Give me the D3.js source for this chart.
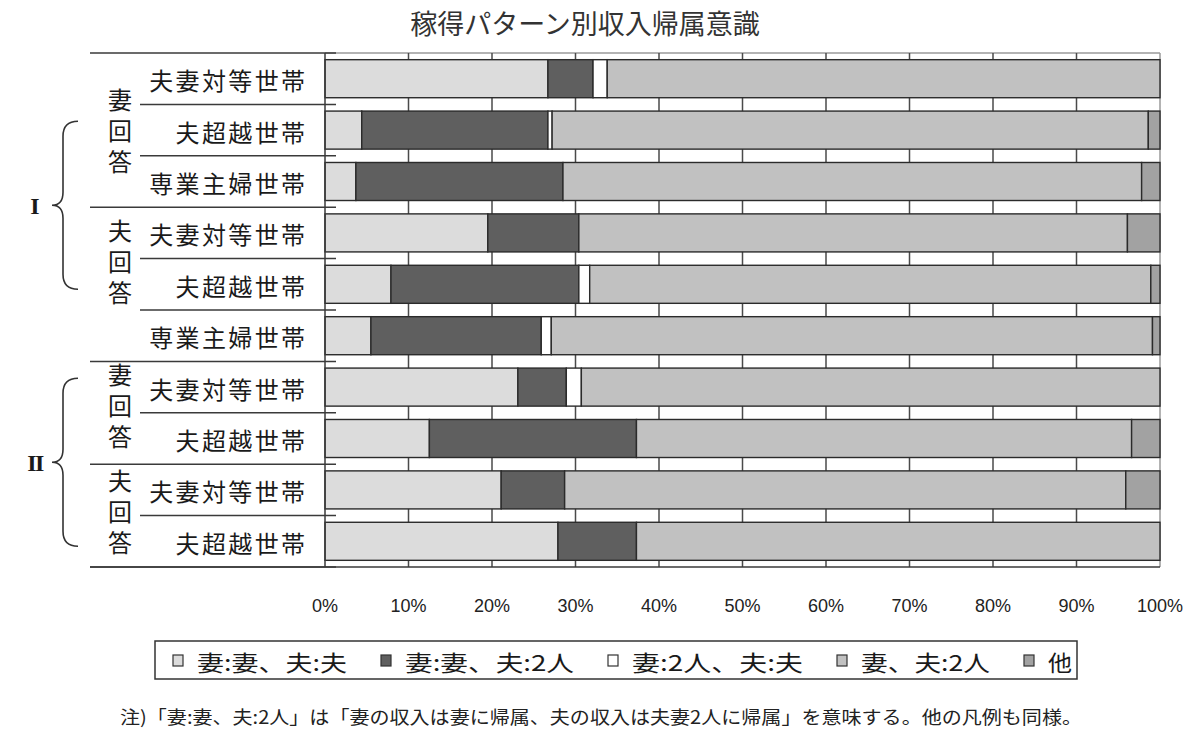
<!DOCTYPE html>
<html>
<head>
<meta charset="utf-8">
<script src="https://cdn.jsdelivr.net/npm/d3@7"></script>
<style>
  html, body { margin: 0; padding: 0; background: #fff; }
  svg { display: block; }
  text { font-family: "Noto Sans CJK JP", "Noto Sans", sans-serif; fill: #1a1a1a; }
</style>
</head>
<body>
<svg id="chart" width="1200" height="741"></svg>
<script>
// ---------- DATA ----------
const title = "稼得パターン別収入帰属意識";
const categories = ["夫妻対等世帯", "夫超越世帯", "専業主婦世帯", "夫妻対等世帯", "夫超越世帯", "専業主婦世帯", "夫妻対等世帯", "夫超越世帯", "夫妻対等世帯", "夫超越世帯"];
const respondentGroups = ["妻回答", "夫回答", "妻回答", "夫回答"];
const respondentRows = [[0, 2], [3, 5], [6, 7], [8, 9]];
const patternGroups = ["I", "II"];
const patternRows = [[0, 5], [6, 9]];
const seriesNames = ["妻:妻、夫:夫", "妻:妻、夫:2人", "妻:2人、夫:夫", "妻、夫:2人", "他"];
const wifeWifeHusbandHusband = [26.7, 4.4, 3.7, 19.5, 7.9, 5.5, 23.1, 12.5, 21.1, 27.9];
const wifeWifeHusbandBoth    = [5.4, 22.3, 24.8, 10.9, 22.5, 20.4, 5.8, 24.8, 7.6, 9.4];
const wifeBothHusbandHusband = [1.7, 0.5, 0.0, 0.0, 1.3, 1.2, 1.8, 0.0, 0.0, 0.0];
const bothBoth               = [66.2, 71.4, 69.3, 65.7, 67.2, 72.0, 69.3, 59.3, 67.2, 62.7];
const other                  = [0.0, 1.4, 2.2, 3.9, 1.1, 0.9, 0.0, 3.4, 4.1, 0.0];
const tickValues = [0, 10, 20, 30, 40, 50, 60, 70, 80, 90, 100];
const tickLabels = ["0%", "10%", "20%", "30%", "40%", "50%", "60%", "70%", "80%", "90%", "100%"];
const note = "注)「妻:妻、夫:2人」は「妻の収入は妻に帰属、夫の収入は夫妻2人に帰属」を意味する。他の凡例も同様。";

// ---------- STYLE / LAYOUT ----------
const colors = ["#dcdcdc", "#5f5f5f", "#ffffff", "#c1c1c1", "#a2a2a2"];
const svg = d3.select("#chart");
const plotLeft = 325, plotRight = 1160, plotTop = 53, plotBottom = 567;

const x = d3.scaleLinear().domain([0, 100]).range([plotLeft, plotRight]);
const y = d3.scaleBand().domain(d3.range(categories.length)).range([plotTop, plotBottom])
  .paddingInner(0.26).paddingOuter(0.13);
const step = y.step();
const rowTop = i => plotTop + i * step;

const table = categories.map((c, i) => ({
  idx: i,
  s0: wifeWifeHusbandHusband[i], s1: wifeWifeHusbandBoth[i], s2: wifeBothHusbandHusband[i],
  s3: bothBoth[i], s4: other[i]
}));
const stack = d3.stack().keys(["s0", "s1", "s2", "s3", "s4"]);
const layers = stack(table);

// Title
svg.append("text").attr("x", 585).attr("y", 22).attr("text-anchor", "middle")
  .attr("dominant-baseline", "central").attr("font-size", 27).style("fill", "#333")
  .text(title);

// plot frame (top + right light border)
svg.append("line").attr("x1", plotLeft).attr("x2", plotRight).attr("y1", plotTop).attr("y2", plotTop)
  .attr("stroke", "#9a9a9a").attr("stroke-width", 1.5);
svg.append("line").attr("x1", plotRight).attr("x2", plotRight).attr("y1", plotTop).attr("y2", plotBottom)
  .attr("stroke", "#9a9a9a").attr("stroke-width", 1.5);

// vertical gridlines
svg.append("g").selectAll("line").data(tickValues.slice(1, -1)).join("line")
  .attr("x1", d => x(d)).attr("x2", d => x(d)).attr("y1", plotTop).attr("y2", plotBottom)
  .attr("stroke", "#4a4a4a").attr("stroke-width", 1.5);

// bars
svg.append("g").selectAll("g").data(layers).join("g")
  .attr("fill", (d, i) => colors[i])
  .selectAll("rect").data(d => d.filter(p => p[1] - p[0] > 0)).join("rect")
  .attr("x", d => x(d[0])).attr("width", d => x(d[1]) - x(d[0]))
  .attr("y", d => y(d.data.idx)).attr("height", y.bandwidth())
  .attr("stroke", "#2b2b2b").attr("stroke-width", 1.4);

// left axis line
svg.append("line").attr("x1", plotLeft).attr("x2", plotLeft).attr("y1", plotTop).attr("y2", plotBottom)
  .attr("stroke", "#3a3a3a").attr("stroke-width", 1.5);
// bottom line
svg.append("line").attr("x1", 90).attr("x2", plotRight).attr("y1", plotBottom).attr("y2", plotBottom)
  .attr("stroke", "#3a3a3a").attr("stroke-width", 1.5);

// row separators in label area + ticks
const groupBoundaries = new Set([0, 3, 6, 8, 10]);
const boundaries = d3.range(categories.length + 1);
svg.append("g").selectAll("line").data(boundaries).join("line")
  .attr("x1", d => groupBoundaries.has(d) ? 90 : 140).attr("x2", 336)
  .attr("y1", d => rowTop(d)).attr("y2", d => rowTop(d))
  .attr("stroke", "#3a3a3a").attr("stroke-width", 1.5);

// x tick labels
svg.append("g").selectAll("text").data(tickValues).join("text")
  .attr("x", d => x(d)).attr("y", 606).attr("text-anchor", "middle")
  .attr("dominant-baseline", "central")
  .style("font-family", "'Liberation Sans', Arial, sans-serif")
  .attr("font-size", 18).style("fill", "#222")
  .text((d, i) => tickLabels[i]);

// category labels
svg.append("g").selectAll("text").data(categories).join("text")
  .attr("x", 305).attr("y", (d, i) => y(i) + y.bandwidth() / 2 + 1)
  .attr("text-anchor", "end").attr("dominant-baseline", "central")
  .attr("font-size", 24)
  .attr("textLength", d => d.length * 26.3 - 2).attr("lengthAdjust", "spacing")
  .text(d => d);

// respondent group labels (vertical writing)
const respOffsets = [7, -16, 0, 3];
respondentGroups.forEach((g, gi) => {
  const [a, b] = respondentRows[gi];
  const cy = (rowTop(a) + rowTop(b + 1)) / 2 + respOffsets[gi];
  svg.append("text").attr("x", 120).attr("y", cy - 3)
    .attr("text-anchor", "middle")
    .style("writing-mode", "vertical-rl")
    .attr("font-size", 24).attr("letter-spacing", 7)
    .text(g);
});

// pattern groups with braces
patternGroups.forEach((g, gi) => {
  const [a, b] = patternRows[gi];
  const cy = (rowTop(a) + rowTop(b + 1)) / 2 - 2;
  const h = 84;
  const xe = 78, xm = 63, xt = 52;
  const p = d3.path();
  p.moveTo(xe, cy - h);
  p.quadraticCurveTo(xm, cy - h, xm, cy - h + 15);
  p.lineTo(xm, cy - 13);
  p.quadraticCurveTo(xm, cy, xt, cy);
  p.quadraticCurveTo(xm, cy, xm, cy + 13);
  p.lineTo(xm, cy + h - 15);
  p.quadraticCurveTo(xm, cy + h, xe, cy + h);
  svg.append("path").attr("d", p.toString()).attr("fill", "none")
    .attr("stroke", "#333").attr("stroke-width", 1.6);
  svg.append("text").attr("x", 35).attr("y", cy + 1).attr("text-anchor", "middle")
    .attr("dominant-baseline", "central")
    .style("font-family", "'Liberation Serif', 'DejaVu Serif', serif")
    .attr("font-weight", "bold").attr("font-size", 24)
    .attr("letter-spacing", gi === 1 ? -1.5 : 0)
    .text(g);
});

// legend
svg.append("rect").attr("x", 155).attr("y", 641).attr("width", 922).attr("height", 38)
  .attr("fill", "#fff").attr("stroke", "#333").attr("stroke-width", 1.5);
const legendTextWidths = [150, 169, 171, 129, 24];
let lx = 173;
seriesNames.forEach((name, i) => {
  svg.append("rect").attr("x", lx).attr("y", 655).attr("width", 10).attr("height", 11)
    .attr("fill", colors[i]).attr("stroke", "#333").attr("stroke-width", 1.2);
  svg.append("text").attr("x", lx + 24).attr("y", 661)
    .attr("dominant-baseline", "central").attr("font-size", 22)
    .attr("textLength", legendTextWidths[i]).attr("lengthAdjust", "spacingAndGlyphs")
    .text(name);
  lx += 24 + legendTextWidths[i] + 34;
});

// note
svg.append("text").attr("x", 120).attr("y", 716).attr("dominant-baseline", "central")
  .attr("font-size", 18).attr("textLength", 962).attr("lengthAdjust", "spacingAndGlyphs")
  .style("fill", "#222").text(note);
</script>
</body>
</html>
